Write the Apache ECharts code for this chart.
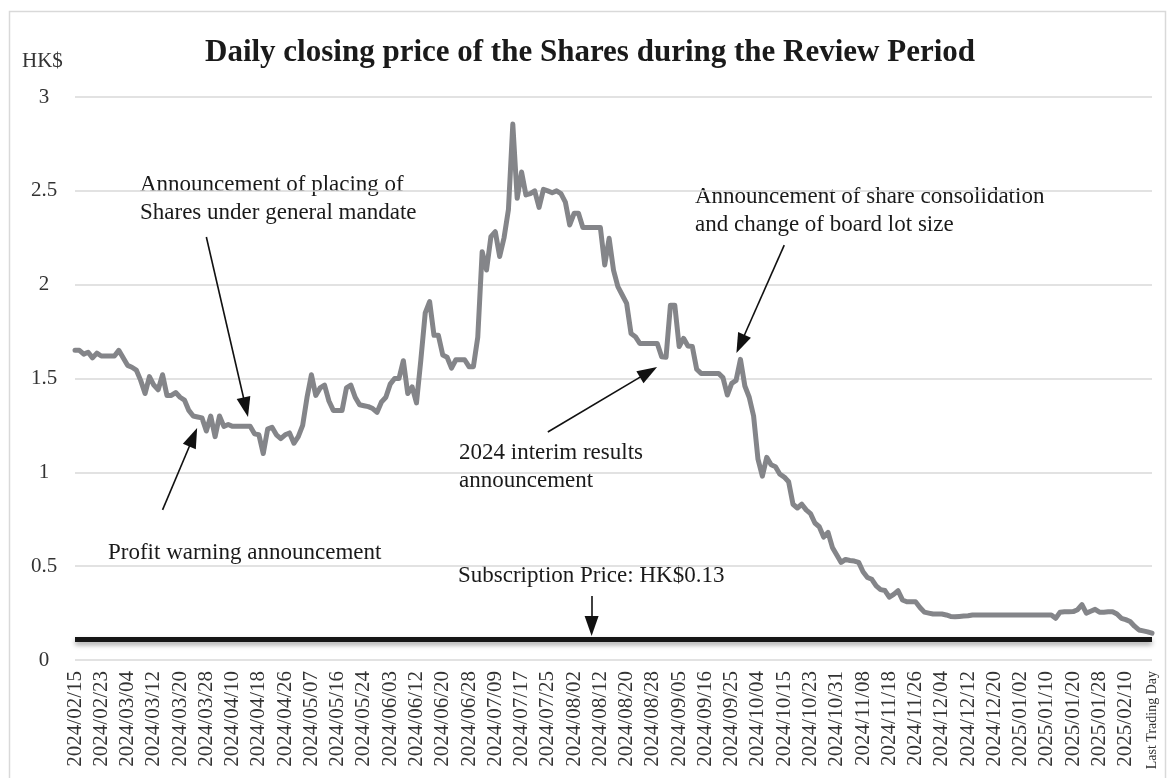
<!DOCTYPE html>
<html>
<head>
<meta charset="utf-8">
<script src="https://cdn.jsdelivr.net/npm/echarts@6/dist/echarts.min.js"></script>
<style>
  html, body { margin: 0; padding: 0; background: #ffffff; }
  #chart { width: 1173px; height: 778px; }
</style>
</head>
<body>
<div id="chart"></div>
<script>
// ---- tick labels (every 6th trading day) ----
const tickLabels = [
  "2024/02/15","2024/02/23","2024/03/04","2024/03/12","2024/03/20","2024/03/28",
  "2024/04/10","2024/04/18","2024/04/26","2024/05/07","2024/05/16","2024/05/24",
  "2024/06/03","2024/06/12","2024/06/20","2024/06/28","2024/07/09","2024/07/17",
  "2024/07/25","2024/08/02","2024/08/12","2024/08/20","2024/08/28","2024/09/05",
  "2024/09/16","2024/09/25","2024/10/04","2024/10/15","2024/10/23","2024/10/31",
  "2024/11/08","2024/11/18","2024/11/26","2024/12/04","2024/12/12","2024/12/20",
  "2025/01/02","2025/01/10","2025/01/20","2025/01/28","2025/02/10","Last Trading Day"
];
const daysPerTick = 6;

// ---- daily closing price (HK$) ----
const closingPrices = [
  1.65, 1.65, 1.63, 1.64, 1.61, 1.635, 1.62, 1.62, 1.62, 1.62,
  1.65, 1.61, 1.57, 1.56, 1.545, 1.49, 1.42, 1.51, 1.465, 1.44,
  1.52, 1.41, 1.41, 1.425, 1.40, 1.385, 1.33, 1.30, 1.295, 1.29,
  1.22, 1.30, 1.19, 1.30, 1.245, 1.255, 1.245, 1.245, 1.245, 1.245,
  1.245, 1.205, 1.20, 1.10, 1.23, 1.24, 1.20, 1.18, 1.20, 1.21,
  1.155, 1.19, 1.25, 1.40, 1.52, 1.41, 1.45, 1.465, 1.38, 1.33,
  1.33, 1.33, 1.45, 1.465, 1.40, 1.36, 1.355, 1.35, 1.34, 1.32,
  1.375, 1.40, 1.47, 1.50, 1.50, 1.595, 1.42, 1.455, 1.37, 1.60,
  1.85, 1.91, 1.73, 1.73, 1.625, 1.613, 1.555, 1.60, 1.60, 1.60,
  1.563, 1.563, 1.72, 2.176, 2.078, 2.256, 2.282, 2.15, 2.25, 2.40,
  2.856, 2.46, 2.60, 2.478, 2.485, 2.50, 2.412, 2.508, 2.50, 2.49,
  2.50, 2.485, 2.44, 2.318, 2.38, 2.38, 2.305, 2.305, 2.305, 2.305,
  2.305, 2.105, 2.247, 2.078, 1.99, 1.945, 1.90, 1.74, 1.723, 1.687,
  1.687, 1.687, 1.687, 1.687, 1.616, 1.613, 1.89, 1.89, 1.67, 1.714,
  1.673, 1.67, 1.549, 1.527, 1.527, 1.527, 1.527, 1.527, 1.505, 1.412,
  1.474, 1.49, 1.602, 1.46, 1.40, 1.30, 1.07, 0.98, 1.08, 1.04,
  1.03, 0.99, 0.975, 0.95, 0.83, 0.81, 0.83, 0.80, 0.78, 0.73,
  0.71, 0.655, 0.68, 0.60, 0.56, 0.52, 0.536, 0.53, 0.527, 0.52,
  0.47, 0.44, 0.43, 0.395, 0.375, 0.37, 0.335, 0.35, 0.369, 0.32,
  0.31, 0.31, 0.31, 0.28, 0.255, 0.25, 0.245, 0.245, 0.245, 0.24,
  0.232, 0.23, 0.232, 0.234, 0.236, 0.24, 0.24, 0.24, 0.24, 0.24,
  0.24, 0.24, 0.24, 0.24, 0.24, 0.24, 0.24, 0.24, 0.24, 0.24,
  0.24, 0.24, 0.24, 0.24, 0.222, 0.255, 0.257, 0.257, 0.258, 0.268,
  0.295, 0.25, 0.26, 0.27, 0.255, 0.255, 0.257, 0.257, 0.245, 0.222,
  0.215, 0.205, 0.18, 0.16, 0.155, 0.15, 0.143
];

// Subscription price reference line (drawn level)
const subscriptionLevel = 0.112;

// Annotation arrows: [tailIndex, tailValue, headIndex, headValue]
const arrowProfit       = [20, 0.80, 27, 1.187];
const arrowPlacing      = [30, 2.254, 39, 1.347];
const arrowInterim      = [108, 1.215, 131, 1.534];
const arrowConsolidate  = [162, 2.211, 152, 1.684];
const arrowSubscription = [118, 0.341, 118, 0.181];

// ---- build categories from the tick labels ----
const categories = [];
tickLabels.forEach(function (lab, j) {
  categories.push(lab);
  if (j < tickLabels.length - 1) {
    for (let k = 1; k < daysPerTick; k++) categories.push(lab + " +" + k);
  }
});

const serif = '"Liberation Serif", "Times New Roman", serif';
function arrowItem(a) {
  return [
    { coord: [categories[a[0]], a[1]], symbol: 'none' },
    { coord: [categories[a[2]], a[3]], symbol: 'triangle' }
  ];
}

const chart = echarts.init(document.getElementById('chart'), null, { renderer: 'canvas' });
chart.setOption({
  animation: false,
  backgroundColor: '#ffffff',
  title: {
    text: 'Daily closing price of the Shares during the Review Period',
    left: 200,
    top: 32,
    textStyle: { fontFamily: serif, fontWeight: 'bold', fontSize: 31, color: '#1a1a1a' }
  },
  grid: { left: 75, right: 21, top: 97, bottom: 118, containLabel: false, outerBoundsMode: 'none' },
  xAxis: {
    type: 'category',
    data: categories,
    boundaryGap: false,
    axisLine: { show: false },
    axisTick: { show: false },
    splitLine: { show: false },
    axisLabel: {
      interval: function (index) { return index % daysPerTick === 0; },
      rotate: 90,
      margin: 11,
      fontFamily: serif,
      fontSize: 21,
      color: '#333333',
      formatter: function (v) {
        return v === 'Last Trading Day' ? '{s|' + v + '}' : v;
      },
      rich: { s: { fontFamily: serif, fontSize: 14, color: '#333333' } }
    }
  },
  yAxis: {
    type: 'value',
    min: 0,
    max: 3,
    interval: 0.5,
    axisLine: { show: false },
    axisTick: { show: false },
    splitLine: { show: true, lineStyle: { color: '#d9d9d9', width: 1.5 } },
    axisLabel: { fontFamily: serif, fontSize: 21, color: '#333333', align: 'center', margin: 31 }
  },
  graphic: [
    { type: 'rect', left: 7, top: 9, silent: true, z: -10,
      shape: { width: 1156, height: 800 },
      style: { fill: null, stroke: '#d9d9d9', lineWidth: 1.5 } },
    { type: 'text', left: 22, top: 51,
      style: { text: 'HK$', font: '21px ' + serif, fill: '#333333' } },
    { type: 'text', left: 140, top: 171,
      style: { text: 'Announcement of placing of\nShares under general mandate', font: '23px ' + serif, lineHeight: 28, fill: '#1a1a1a' } },
    { type: 'text', left: 695, top: 183,
      style: { text: 'Announcement of share consolidation\nand change of board lot size', font: '23px ' + serif, lineHeight: 28, fill: '#1a1a1a' } },
    { type: 'text', left: 459, top: 439,
      style: { text: '2024 interim results\nannouncement', font: '23px ' + serif, lineHeight: 28, fill: '#1a1a1a' } },
    { type: 'text', left: 108, top: 539,
      style: { text: 'Profit warning announcement', font: '23px ' + serif, lineHeight: 28, fill: '#1a1a1a' } },
    { type: 'text', left: 458, top: 562,
      style: { text: 'Subscription Price: HK$0.13', font: '23px ' + serif, lineHeight: 28, fill: '#1a1a1a' } }
  ],
  series: [{
    type: 'line',
    data: closingPrices,
    showSymbol: false,
    symbol: 'none',
    smooth: false,
    lineStyle: { color: '#848589', width: 5, join: 'round', cap: 'round' },
    z: 3,
    markLine: {
      silent: true,
      animation: false,
      symbol: ['none', 'triangle'],
      symbolSize: [14, 20],
      label: { show: false },
      emphasis: { disabled: true },
      lineStyle: { color: '#111111', width: 1.6, type: 'solid' },
      data: [
        [
          { coord: [categories[0], subscriptionLevel], symbol: 'none',
            lineStyle: { color: '#161616', width: 5, type: 'solid',
                         shadowColor: 'rgba(0,0,0,0.35)', shadowBlur: 5, shadowOffsetY: 3 } },
          { coord: [categories[categories.length - 1], subscriptionLevel], symbol: 'none' }
        ],
        arrowItem(arrowProfit),
        arrowItem(arrowPlacing),
        arrowItem(arrowInterim),
        arrowItem(arrowConsolidate),
        arrowItem(arrowSubscription)
      ]
    }
  }]
});
</script>
</body>
</html>
